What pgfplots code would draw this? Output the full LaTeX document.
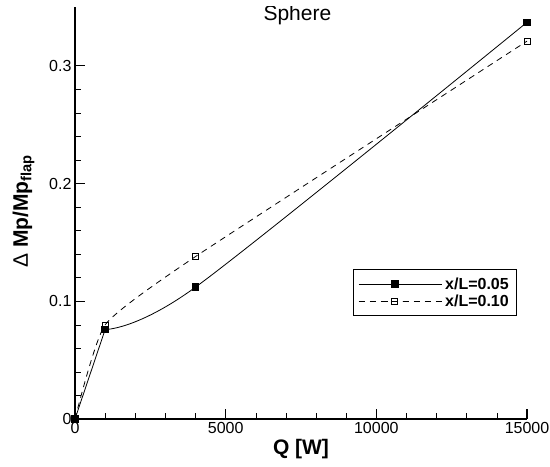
\documentclass[border=0pt]{standalone}
\usepackage{fontspec}
\setmainfont{Liberation Sans}
\usepackage{pgfplots}
\pgfplotsset{compat=1.18}
\begin{document}
\begin{tikzpicture}
\begin{axis}[
  name=ax,
  scale only axis, width=452pt, height=412pt,
  xmin=0, xmax=15000, ymin=0, ymax=0.35,
  axis lines*=left,
  axis line style={line width=1.6pt},
  xtick={0,5000,10000,15000}, minor x tick num=4,
  ytick={0,0.1,0.2,0.3}, minor y tick num=4,
  tick align=inside,
  major tick length=10pt, minor tick length=6pt,
  major tick style={line width=1.2pt, black},
  minor tick style={line width=0.6pt, black},
  scaled x ticks=false, scaled y ticks=false,
  xticklabel style={/pgf/number format/1000 sep={}},
  /pgf/number format/assume math mode=true,
  tick label style={font=\fontsize{16}{16}\selectfont},
  xlabel={\textbf{Q [W]}},
  xlabel style={at={(axis description cs:0.5,-0.073)}, anchor=center, font=\fontsize{21}{21}\selectfont},
  ylabel={Δ \textbf{Mp/Mp\textsubscript{flap}}},
  ylabel style={at={(axis description cs:-0.114,0.504)}, anchor=center, font=\fontsize{21}{21}\selectfont},
  legend style={at={(axis description cs:0.615,0.25)}, anchor=south west,
    draw=black, line width=0.8pt, font=\bfseries\fontsize{16}{16}\selectfont,
    inner xsep=5pt, inner ysep=6pt, row sep=0pt,
    nodes={inner xsep=3pt, inner ysep=2pt}},
  legend cell align=left,
  legend image code/.code={\draw[#1, mark repeat=2, mark phase=2] plot coordinates {(0pt,0pt) (36pt,0pt) (72pt,0pt)}; \path (0pt,0pt) -- (83pt,0pt);},
]
\addplot[black, line width=0.8pt, mark=square*, mark size=3.3pt, mark options={solid}, forget plot]
  coordinates {(0,0) (1000,0.076)};
\addplot[black, line width=0.8pt, smooth, tension=0.5, mark=square*, mark size=3.3pt, mark options={solid}]
  coordinates {(1000,0.076) (4000,0.112) (15000,0.337)};
\addlegendentry{x/L=0.05}
\addplot[black, line width=0.8pt, dash pattern=on 6pt off 5pt, smooth, tension=0.3, mark=square, mark size=3pt, mark options={solid, fill=white, line width=0.6pt}]
  coordinates {(0,0) (1000,0.080) (4000,0.138) (15000,0.321)};
\addlegendentry{x/L=0.10}
\node[anchor=base, font=\fontsize{21}{21}\selectfont] at (axis description cs:0.492,0.966) {Sphere};
\end{axis}
\pgfresetboundingbox
\path[use as bounding box] ([shift={(-75pt,-48pt)}]ax.south west) rectangle ([shift={(23pt,7pt)}]ax.north east);
\end{tikzpicture}
\end{document}
